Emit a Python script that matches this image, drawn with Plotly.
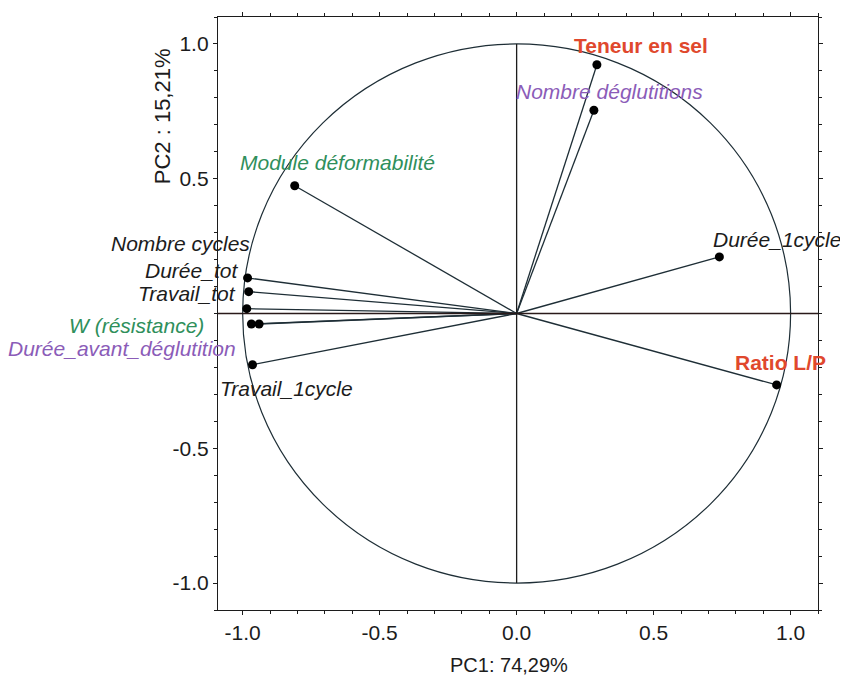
import plotly.graph_objects as go

# ---- data ----
variables = ["Teneur en sel", "Nombre déglutitions", "Module déformabilité",
             "Durée_1cycle", "Ratio L/P", "Nombre cycles", "Durée_tot",
             "Travail_tot", "W (résistance)", "Durée_avant_déglutition",
             "Travail_1cycle"]
pc1 = [0.293, 0.282, -0.81, 0.74, 0.949, -0.985, -0.982, -0.978, -0.968, -0.940, -0.964]
pc2 = [0.923, 0.754, 0.474, 0.21, -0.265, 0.018, 0.132, 0.081, -0.039, -0.039, -0.19]

x_ticks = [-1.0, -0.5, 0.0, 0.5, 1.0]
y_ticks = [-1.0, -0.5, 0.5, 1.0]

# ---- styles ----
RED = "#e0482d"
PURPLE = "#8b5cb8"
GREEN = "#2f8f5b"
DARK = "#1c1c1c"
LINE = "#1e2e36"
FONT = "Arial, Liberation Sans, sans-serif"
LABEL_SIZE = 21

label_style = {
    "Teneur en sel": dict(color=RED, bold=True, xanchor="center", xs=44, ys=19),
    "Nombre déglutitions": dict(color=PURPLE, bold=False, xanchor="center", xs=16, ys=19),
    "Module déformabilité": dict(color=GREEN, bold=False, xanchor="left", xs=-57, ys=23),
    "Durée_1cycle": dict(color=DARK, bold=False, xanchor="left", xs=-8, ys=17),
    "Ratio L/P": dict(color=RED, bold=True, xanchor="left", xs=-44, ys=22),
    "Nombre cycles": dict(color=DARK, bold=False, xanchor="right", xs=5, ys=65),
    "Durée_tot": dict(color=DARK, bold=False, xanchor="right", xs=-8, ys=7),
    "Travail_tot": dict(color=DARK, bold=False, xanchor="right", xs=-11, ys=-2),
    "W (résistance)": dict(color=GREEN, bold=False, xanchor="right", xs=-45, ys=-1),
    "Durée_avant_déglutition": dict(color=PURPLE, bold=False, xanchor="right", xs=-21, ys=-24),
    "Travail_1cycle": dict(color=DARK, bold=False, xanchor="left", xs=-35, ys=-24),
}

fig = go.Figure()

# vectors
lx, ly = [], []
for a, b in zip(pc1, pc2):
    lx += [0, a, None]
    ly += [0, b, None]
fig.add_trace(go.Scatter(x=lx, y=ly, mode="lines",
                         line=dict(color=LINE, width=1.3), hoverinfo="skip",
                         showlegend=False))
fig.add_trace(go.Scatter(x=pc1, y=pc2, mode="markers",
                         marker=dict(color="black", size=9), text=variables,
                         showlegend=False))

# circle and axes lines
fig.add_shape(type="circle", xref="x", yref="y", x0=-1, y0=-1, x1=1, y1=1,
              line=dict(color=LINE, width=1.2), layer="below")
fig.add_shape(type="line", xref="paper", yref="y", x0=0, x1=1, y0=0, y1=0,
              line=dict(color="#2a1a1a", width=1.3))
fig.add_shape(type="line", xref="x", yref="y", x0=0, x1=0, y0=-1, y1=1,
              line=dict(color=DARK, width=1.3))

# labels
for name, a, b in zip(variables, pc1, pc2):
    s = label_style[name]
    txt = f"<b>{name}</b>" if s["bold"] else f"<i>{name}</i>"
    fig.add_annotation(x=a, y=b, xref="x", yref="y", text=txt, showarrow=False,
                       xanchor=s["xanchor"], yanchor="middle",
                       xshift=s["xs"], yshift=s["ys"],
                       font=dict(family=FONT, size=LABEL_SIZE, color=s["color"]))

# axis titles
fig.add_annotation(x=0.485, y=-0.092, xref="paper", yref="paper",
                   text="PC1: 74,29%", showarrow=False, xanchor="center",
                   yanchor="middle", font=dict(family=FONT, size=20, color=DARK))
fig.add_annotation(x=-0.093, y=0.833, xref="paper", yref="paper",
                   text="PC2 : 15,21%", showarrow=False, textangle=-90,
                   xanchor="center", yanchor="middle",
                   font=dict(family=FONT, size=22, color=DARK))

axis_common = dict(showgrid=False, zeroline=False, showline=True,
                   linecolor=DARK, linewidth=1.3, mirror="ticks",
                   ticks="outside", ticklen=4, tickcolor=DARK,
                   tickfont=dict(family=FONT, size=21, color=DARK),
                   minor=dict(dtick=0.1, ticks="outside", ticklen=3,
                              tickcolor=DARK))

fig.update_xaxes(range=[-1.09, 1.1], tickvals=x_ticks,
                 ticktext=[f"{v:.1f}" for v in x_ticks], **axis_common)
fig.update_yaxes(range=[-1.1, 1.1], tickvals=y_ticks,
                 ticktext=[f"{v:.1f}" for v in y_ticks], **axis_common)

# page body has an 8px margin: size and margins chosen so the frame sits at
# x 218..818, y 12..610 in the 848x688 window
fig.update_layout(width=840, height=672, plot_bgcolor="white",
                  paper_bgcolor="white",
                  margin=dict(l=210, r=30, t=4, b=70),
                  font=dict(family=FONT))

fig.write_html("out.html")
